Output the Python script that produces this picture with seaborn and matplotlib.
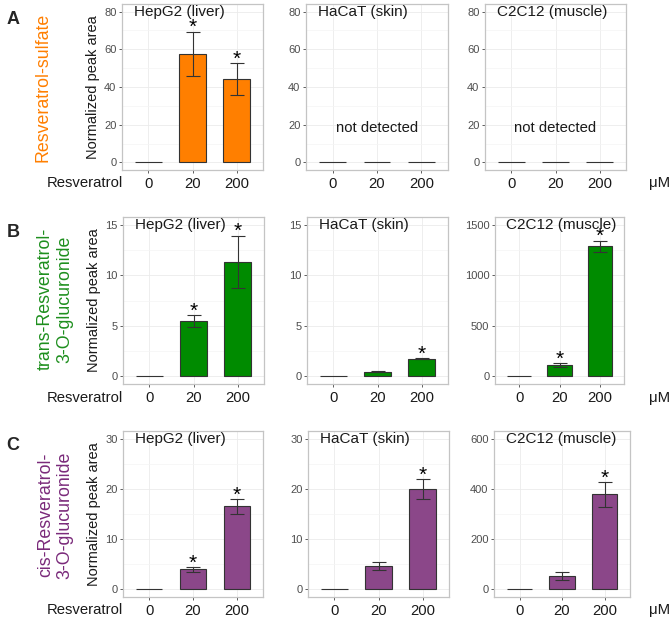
import numpy as np
import pandas as pd
import matplotlib
matplotlib.use("Agg")
import matplotlib.pyplot as plt
from matplotlib.ticker import MultipleLocator
from matplotlib.transforms import blended_transform_factory
import seaborn as sns

# Data
cells = ["HepG2 (liver)", "HaCaT (skin)", "C2C12 (muscle)"]
doses = ["0", "20", "200"]
metabolites = ["Resveratrol-sulfate",
               "trans-Resveratrol-\n3-O-glucuronide",
               "cis-Resveratrol-\n3-O-glucuronide"]
panel_letters = ["A", "B", "C"]

sulfate_mean = [[0, 57.6, 44.2], [0, 0, 0], [0, 0, 0]]
sulfate_err = [[0, 11.7, 8.5], [0, 0, 0], [0, 0, 0]]
sulfate_sig = [[0, 1, 1], [0, 0, 0], [0, 0, 0]]

trans_mean = [[0, 5.45, 11.3], [0, 0.45, 1.75], [0, 110, 1288]]
trans_err = [[0, 0.6, 2.6], [0, 0.05, 0.06], [0, 21, 54]]
trans_sig = [[0, 1, 1], [0, 0, 1], [0, 1, 1]]

cis_mean = [[0, 4.0, 16.5], [0, 4.65, 20.0], [0, 54, 378]]
cis_err = [[0, 0.5, 1.5], [0, 0.8, 2.0], [0, 15, 50]]
cis_sig = [[0, 1, 1], [0, 0, 1], [0, 0, 1]]

y_tops = [[80, 80, 80], [15, 15, 1500], [30, 30, 600]]
y_steps = [[20, 20, 20], [5, 5, 500], [10, 10, 200]]

means = [sulfate_mean, trans_mean, cis_mean]
errs = [sulfate_err, trans_err, cis_err]
sigs = [sulfate_sig, trans_sig, cis_sig]

bar_colors = ["#FF7F00", "#008B00", "#8B4789"]
label_colors = ["#FF7F00", "#1E8F1E", "#7A2A7A"]

sns.set_style("white")
plt.rcParams['font.family'] = ['Liberation Sans', 'DejaVu Sans']

W, H = 672, 620
fig = plt.figure(figsize=(W / 100, H / 100), dpi=100)


def px_axes(left, right, top, bottom):
    return fig.add_axes([left / W, 1 - bottom / H, (right - left) / W, (bottom - top) / H])


# panel boxes in pixels: (left, right) per column, (top, bottom) per row
col_boxes = [[(122, 263), (306, 448), (485, 626)],
             [(123, 264), (307, 448), (495, 624)],
             [(123, 263), (308, 449), (494, 630)]]
row_boxes = [(4, 170), (217, 384), (431, 597)]
row_label_y = [87.5, 299, 515]
row_label_x = [43, 55, 55]
letter_y = [20, 232, 445]
xlab_y = [183, 398, 610]

for r in range(3):
    top, bottom = row_boxes[r]
    for c in range(3):
        left, right = col_boxes[r][c]
        ax = px_axes(left, right, top, bottom)
        df = pd.DataFrame({"dose": doses, "value": means[r][c],
                           "err": errs[r][c], "sig": sigs[r][c]})
        sns.barplot(data=df, x="dose", y="value", order=doses, color=bar_colors[r],
                    width=0.6, edgecolor="#333333", linewidth=0.8, saturation=1,
                    errorbar=None, ax=ax, zorder=3)
        xs = np.arange(len(doses))
        has_err = df["err"].to_numpy() > 0
        ax.errorbar(xs[has_err], df["value"][has_err], yerr=df["err"][has_err],
                    fmt="none", ecolor="#333333", elinewidth=0.8, capsize=5,
                    capthick=0.8, zorder=4)
        for i in range(len(doses)):
            if df["sig"][i]:
                ax.annotate("*", (xs[i], df["value"][i] + df["err"][i]),
                            xytext=(0, -4), textcoords="offset points",
                            ha="center", va="bottom", fontsize=15, color="black")
        ytop = y_tops[r][c]
        step = y_steps[r][c]
        ax.set_ylim(-0.05 * ytop, 1.05 * ytop)
        ax.set_xlim(-0.6, 2.6)
        ax.yaxis.set_major_locator(MultipleLocator(step))
        ax.yaxis.set_minor_locator(MultipleLocator(step / 2))
        ax.grid(True, which="major", color="#EBEBEB", linewidth=0.6, zorder=0)
        ax.grid(True, which="minor", axis="y", color="#F4F4F4", linewidth=0.5, zorder=0)
        ax.set_axisbelow(True)
        for s in ax.spines.values():
            s.set_color("#C4C4C4")
            s.set_linewidth(0.9)
        ax.tick_params(axis="y", which="major", left=True, length=2.5, width=0.6,
                       color="#444444", labelsize=8, labelcolor="#4D4D4D", pad=1.5)
        ax.tick_params(axis="y", which="minor", left=False)
        ax.tick_params(axis="x", bottom=True, length=2.5, width=0.6,
                       color="#444444", labelsize=10.7, labelcolor="#1A1A1A", pad=2.5)
        ax.set_xlabel("")
        ax.set_ylabel("")
        if c == 0:
            ax.set_ylabel("Normalized peak area", fontsize=10.5, color="#1A1A1A", labelpad=3)
        # cell line name: x in axes fraction, y at the top tick value
        ax.text(0.085, ytop, cells[c],
                transform=blended_transform_factory(ax.transAxes, ax.transData),
                ha="left", va="center", fontsize=11, color="#1A1A1A")
        if max(means[r][c]) == 0:
            ax.text(1, 0.23 * ytop, "not detected", ha="center", va="center",
                    fontsize=10.7, color="#1A1A1A")

    fig.text(row_label_x[r] / W, 1 - row_label_y[r] / H, metabolites[r], rotation=90,
             ha="center", va="center", fontsize=12.8, color=label_colors[r],
             multialignment="center", linespacing=1.15)
    fig.text(13 / W, 1 - letter_y[r] / H, panel_letters[r], ha="center", va="center",
             fontsize=13, fontweight="bold")
    fig.text(123 / W, 1 - xlab_y[r] / H, "Resveratrol", ha="right", va="center",
             fontsize=10.7, color="#1A1A1A")
    fig.text(660 / W, 1 - xlab_y[r] / H, "μM", ha="center", va="center",
             fontsize=10.7, color="#1A1A1A")

fig.savefig("out.png", dpi=100, facecolor="white")
